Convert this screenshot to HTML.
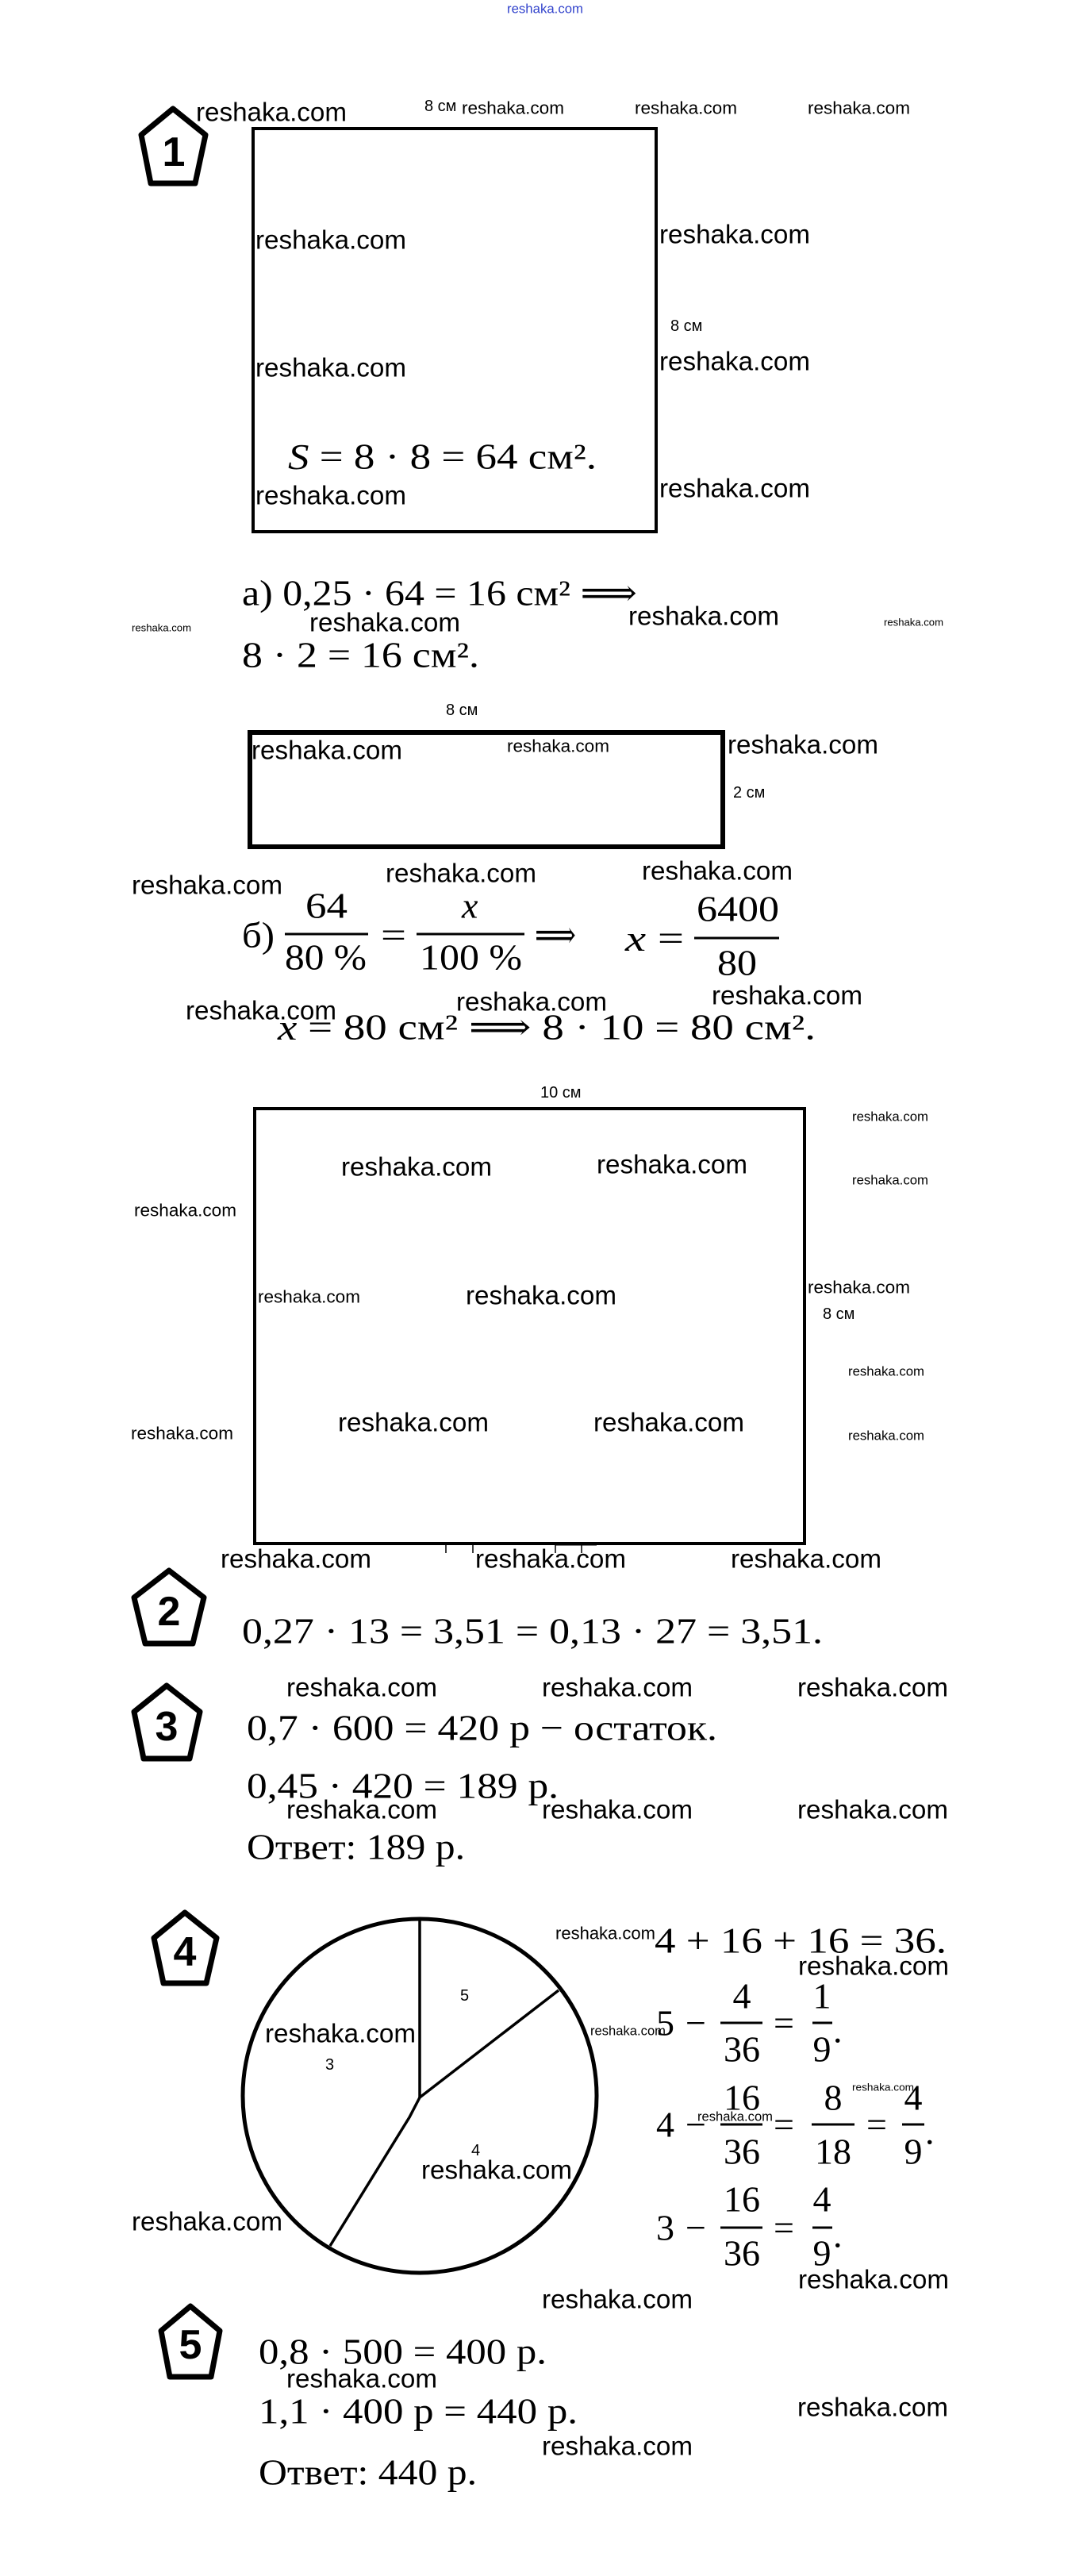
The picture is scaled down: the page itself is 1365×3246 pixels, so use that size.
<!DOCTYPE html>
<html><head><meta charset="utf-8"><style>
html,body{margin:0;padding:0;background:#fff;}
svg{display:block;}
.r{font-family:"Liberation Sans",sans-serif;fill:#000;dominant-baseline:central;}
.m{font-family:"Liberation Serif","DejaVu Serif",serif;fill:#000;dominant-baseline:central;font-size:46px;}
.p{font-family:"Liberation Sans",sans-serif;font-weight:bold;fill:#000;dominant-baseline:central;text-anchor:middle;font-size:52px;}
.s{font-family:"Liberation Sans",sans-serif;fill:#000;dominant-baseline:central;font-size:20px;}
</style></head><body>
<svg width="1365" height="3246" viewBox="0 0 1365 3246" xmlns="http://www.w3.org/2000/svg">
<text class="r" x="639" y="11" font-size="17" fill="#3344cc" style="fill:#3344cc" textLength="96" lengthAdjust="spacingAndGlyphs">reshaka.com</text>

<!-- pentagons -->
<g fill="none" stroke="#000" stroke-width="7" stroke-linejoin="round">
<polygon points="218,137 259,170 246,231 190,231 178,170"/>
<polygon points="213,1979 257,2013 243,2071 183,2071 169,2013"/>
<polygon points="210,2124 252,2157 239,2216 181,2216 169,2157"/>
<polygon points="233,2410 273,2442 260,2499 206,2499 194,2442"/>
<polygon points="240,2906 277,2937 266,2995 214,2995 203,2937"/>
</g>
<text class="p" x="219" y="192">1</text>
<text class="p" x="213" y="2031">2</text>
<text class="p" x="210" y="2176">3</text>
<text class="p" x="233" y="2460">4</text>
<text class="p" x="240" y="2955">5</text>

<!-- shapes -->
<rect x="319" y="162" width="508" height="508" fill="none" stroke="#000" stroke-width="4"/>
<rect x="315" y="923" width="596" height="144" fill="none" stroke="#000" stroke-width="6"/>
<rect x="321" y="1397" width="693" height="548" fill="none" stroke="#000" stroke-width="4"/>
<g stroke="#000" stroke-width="1.5">
<line x1="562" y1="1945" x2="562" y2="1957"/><line x1="596" y1="1945" x2="596" y2="1957"/>
<line x1="700" y1="1945" x2="700" y2="1957"/><line x1="733" y1="1945" x2="733" y2="1957"/>
</g>
<line x1="700" y1="1946" x2="752" y2="1946" stroke="#000" stroke-width="3"/>
<circle cx="529" cy="2641" r="223" fill="none" stroke="#000" stroke-width="5"/>
<g stroke="#000" stroke-width="3.5" fill="none">
<line x1="529" y1="2418" x2="529" y2="2643"/>
<line x1="529" y1="2643" x2="704" y2="2508"/>
<polyline points="529,2643 516,2668 416,2830"/>
</g>
<text class="s" x="580" y="2515" font-size="17">5</text>
<text class="s" x="410" y="2602" font-size="17">3</text>
<text class="s" x="594" y="2710" font-size="17">4</text>

<!-- dimension labels -->
<text class="s" x="535" y="134">8 см</text>
<text class="s" x="845" y="411">8 см</text>
<text class="s" x="562" y="895">8 см</text>
<text class="s" x="924" y="999">2 см</text>
<text class="s" x="681" y="1377">10 см</text>
<text class="s" x="1037" y="1656">8 см</text>

<!-- math -->
<text class="m" x="363" y="575" textLength="389" lengthAdjust="spacingAndGlyphs"><tspan font-style="italic">S</tspan> = 8 · 8 = 64 см².</text>
<text class="m" x="305" y="747" textLength="498" lengthAdjust="spacingAndGlyphs">а) 0,25 · 64 = 16 см² ⟹</text>
<text class="m" x="305" y="825" textLength="299" lengthAdjust="spacingAndGlyphs">8 · 2 = 16 см².</text>

<text class="m" x="305" y="1178" textLength="41" lengthAdjust="spacingAndGlyphs">б)</text>
<text class="m" x="385" y="1141" textLength="53" lengthAdjust="spacingAndGlyphs">64</text>
<line x1="359" y1="1177" x2="464" y2="1177" stroke="#000" stroke-width="3"/>
<text class="m" x="359" y="1206" textLength="103" lengthAdjust="spacingAndGlyphs">80 %</text>
<text class="m" x="480" y="1178" textLength="32" lengthAdjust="spacingAndGlyphs">=</text>
<text class="m" x="582" y="1141" font-style="italic">x</text>
<line x1="525" y1="1177" x2="661" y2="1177" stroke="#000" stroke-width="3"/>
<text class="m" x="529" y="1206" textLength="129" lengthAdjust="spacingAndGlyphs">100 %</text>
<text class="m" x="674" y="1178" textLength="52" lengthAdjust="spacingAndGlyphs">⟹</text>
<text class="m" x="788" y="1182" textLength="74" lengthAdjust="spacingAndGlyphs"><tspan font-style="italic">x</tspan> =</text>
<text class="m" x="878" y="1145" textLength="104" lengthAdjust="spacingAndGlyphs">6400</text>
<line x1="875" y1="1182" x2="982" y2="1182" stroke="#000" stroke-width="3"/>
<text class="m" x="904" y="1213" textLength="50" lengthAdjust="spacingAndGlyphs">80</text>
<text class="m" x="350" y="1294" textLength="678" lengthAdjust="spacingAndGlyphs"><tspan font-style="italic">x</tspan> = 80 см² ⟹   8 · 10 = 80 см².</text>

<text class="m" x="305" y="2055" textLength="732" lengthAdjust="spacingAndGlyphs">0,27 · 13 = 3,51 = 0,13 · 27 = 3,51.</text>
<text class="m" x="311" y="2177" textLength="593" lengthAdjust="spacingAndGlyphs">0,7 · 600 = 420 р − остаток.</text>
<text class="m" x="311" y="2250" textLength="393" lengthAdjust="spacingAndGlyphs">0,45 · 420 = 189 р.</text>
<text class="m" x="311" y="2327" textLength="275" lengthAdjust="spacingAndGlyphs">Ответ: 189 р.</text>

<text class="m" x="825" y="2445" textLength="368" lengthAdjust="spacingAndGlyphs">4 + 16 + 16 = 36.</text>
<!-- row1 -->
<text class="m" x="827" y="2549">5</text><text class="m" x="864" y="2549">−</text>
<text class="m" x="935" y="2515" text-anchor="middle">4</text>
<line x1="908" y1="2549" x2="961" y2="2549" stroke="#000" stroke-width="3"/>
<text class="m" x="935" y="2582" text-anchor="middle">36</text>
<text class="m" x="975" y="2549">=</text>
<text class="m" x="1036" y="2515" text-anchor="middle">1</text>
<line x1="1024" y1="2549" x2="1049" y2="2549" stroke="#000" stroke-width="3"/>
<text class="m" x="1036" y="2582" text-anchor="middle">9</text><text class="m" x="1050" y="2558">.</text>
<!-- row2 -->
<text class="m" x="827" y="2677">4</text><text class="m" x="864" y="2677">−</text>
<text class="m" x="935" y="2643" text-anchor="middle">16</text>
<line x1="908" y1="2677" x2="961" y2="2677" stroke="#000" stroke-width="3"/>
<text class="m" x="935" y="2711" text-anchor="middle">36</text>
<text class="m" x="975" y="2677">=</text>
<text class="m" x="1050" y="2643" text-anchor="middle">8</text>
<line x1="1023" y1="2677" x2="1077" y2="2677" stroke="#000" stroke-width="3"/>
<text class="m" x="1050" y="2711" text-anchor="middle">18</text>
<text class="m" x="1092" y="2677">=</text>
<text class="m" x="1151" y="2643" text-anchor="middle">4</text>
<line x1="1137" y1="2677" x2="1165" y2="2677" stroke="#000" stroke-width="3"/>
<text class="m" x="1151" y="2711" text-anchor="middle">9</text><text class="m" x="1166" y="2686">.</text>
<!-- row3 -->
<text class="m" x="827" y="2807">3</text><text class="m" x="864" y="2807">−</text>
<text class="m" x="935" y="2771" text-anchor="middle">16</text>
<line x1="908" y1="2807" x2="961" y2="2807" stroke="#000" stroke-width="3"/>
<text class="m" x="935" y="2839" text-anchor="middle">36</text>
<text class="m" x="975" y="2807">=</text>
<text class="m" x="1036" y="2771" text-anchor="middle">4</text>
<line x1="1024" y1="2807" x2="1049" y2="2807" stroke="#000" stroke-width="3"/>
<text class="m" x="1036" y="2839" text-anchor="middle">9</text><text class="m" x="1050" y="2816">.</text>

<text class="m" x="326" y="2963" textLength="363" lengthAdjust="spacingAndGlyphs">0,8 · 500 = 400 р.</text>
<text class="m" x="326" y="3038" textLength="402" lengthAdjust="spacingAndGlyphs">1,1 · 400 р = 440 р.</text>
<text class="m" x="326" y="3115" textLength="275" lengthAdjust="spacingAndGlyphs">Ответ: 440 р.</text>

<!-- watermarks large -->
<g class="r" font-size="33">
<text class="r" x="247" y="141" font-size="33" textLength="190" lengthAdjust="spacingAndGlyphs">reshaka.com</text>
<text class="r" x="322" y="302" font-size="33" textLength="190" lengthAdjust="spacingAndGlyphs">reshaka.com</text>
<text class="r" x="322" y="463" font-size="33" textLength="190" lengthAdjust="spacingAndGlyphs">reshaka.com</text>
<text class="r" x="322" y="624" font-size="33" textLength="190" lengthAdjust="spacingAndGlyphs">reshaka.com</text>
<text class="r" x="831" y="295" font-size="33" textLength="190" lengthAdjust="spacingAndGlyphs">reshaka.com</text>
<text class="r" x="831" y="455" font-size="33" textLength="190" lengthAdjust="spacingAndGlyphs">reshaka.com</text>
<text class="r" x="831" y="615" font-size="33" textLength="190" lengthAdjust="spacingAndGlyphs">reshaka.com</text>
<text class="r" x="390" y="784" font-size="33" textLength="190" lengthAdjust="spacingAndGlyphs">reshaka.com</text>
<text class="r" x="792" y="776" font-size="33" textLength="190" lengthAdjust="spacingAndGlyphs">reshaka.com</text>
<text class="r" x="317" y="945" font-size="33" textLength="190" lengthAdjust="spacingAndGlyphs">reshaka.com</text>
<text class="r" x="917" y="938" font-size="33" textLength="190" lengthAdjust="spacingAndGlyphs">reshaka.com</text>
<text class="r" x="486" y="1100" font-size="33" textLength="190" lengthAdjust="spacingAndGlyphs">reshaka.com</text>
<text class="r" x="809" y="1097" font-size="33" textLength="190" lengthAdjust="spacingAndGlyphs">reshaka.com</text>
<text class="r" x="166" y="1115" font-size="33" textLength="190" lengthAdjust="spacingAndGlyphs">reshaka.com</text>
<text class="r" x="234" y="1273" font-size="33" textLength="190" lengthAdjust="spacingAndGlyphs">reshaka.com</text>
<text class="r" x="575" y="1262" font-size="33" textLength="190" lengthAdjust="spacingAndGlyphs">reshaka.com</text>
<text class="r" x="897" y="1254" font-size="33" textLength="190" lengthAdjust="spacingAndGlyphs">reshaka.com</text>
<text class="r" x="430" y="1470" font-size="33" textLength="190" lengthAdjust="spacingAndGlyphs">reshaka.com</text>
<text class="r" x="752" y="1467" font-size="33" textLength="190" lengthAdjust="spacingAndGlyphs">reshaka.com</text>
<text class="r" x="587" y="1632" font-size="33" textLength="190" lengthAdjust="spacingAndGlyphs">reshaka.com</text>
<text class="r" x="426" y="1792" font-size="33" textLength="190" lengthAdjust="spacingAndGlyphs">reshaka.com</text>
<text class="r" x="748" y="1792" font-size="33" textLength="190" lengthAdjust="spacingAndGlyphs">reshaka.com</text>
<text class="r" x="278" y="1964" font-size="33" textLength="190" lengthAdjust="spacingAndGlyphs">reshaka.com</text>
<text class="r" x="599" y="1964" font-size="33" textLength="190" lengthAdjust="spacingAndGlyphs">reshaka.com</text>
<text class="r" x="921" y="1964" font-size="33" textLength="190" lengthAdjust="spacingAndGlyphs">reshaka.com</text>
<text class="r" x="361" y="2126" font-size="33" textLength="190" lengthAdjust="spacingAndGlyphs">reshaka.com</text>
<text class="r" x="683" y="2126" font-size="33" textLength="190" lengthAdjust="spacingAndGlyphs">reshaka.com</text>
<text class="r" x="1005" y="2126" font-size="33" textLength="190" lengthAdjust="spacingAndGlyphs">reshaka.com</text>
<text class="r" x="361" y="2280" font-size="33" textLength="190" lengthAdjust="spacingAndGlyphs">reshaka.com</text>
<text class="r" x="683" y="2280" font-size="33" textLength="190" lengthAdjust="spacingAndGlyphs">reshaka.com</text>
<text class="r" x="1005" y="2280" font-size="33" textLength="190" lengthAdjust="spacingAndGlyphs">reshaka.com</text>
<text class="r" x="334" y="2562" font-size="33" textLength="190" lengthAdjust="spacingAndGlyphs">reshaka.com</text>
<text class="r" x="531" y="2734" font-size="33" textLength="190" lengthAdjust="spacingAndGlyphs">reshaka.com</text>
<text class="r" x="166" y="2799" font-size="33" textLength="190" lengthAdjust="spacingAndGlyphs">reshaka.com</text>
<text class="r" x="1006" y="2477" font-size="33" textLength="190" lengthAdjust="spacingAndGlyphs">reshaka.com</text>
<text class="r" x="1006" y="2872" font-size="33" textLength="190" lengthAdjust="spacingAndGlyphs">reshaka.com</text>
<text class="r" x="683" y="2897" font-size="33" textLength="190" lengthAdjust="spacingAndGlyphs">reshaka.com</text>
<text class="r" x="361" y="2997" font-size="33" textLength="190" lengthAdjust="spacingAndGlyphs">reshaka.com</text>
<text class="r" x="1005" y="3033" font-size="33" textLength="190" lengthAdjust="spacingAndGlyphs">reshaka.com</text>
<text class="r" x="683" y="3082" font-size="33" textLength="190" lengthAdjust="spacingAndGlyphs">reshaka.com</text>
</g>
<!-- medium -->
<text class="r" x="582" y="136" font-size="22" textLength="129" lengthAdjust="spacingAndGlyphs">reshaka.com</text>
<text class="r" x="800" y="136" font-size="22" textLength="129" lengthAdjust="spacingAndGlyphs">reshaka.com</text>
<text class="r" x="1018" y="136" font-size="22" textLength="129" lengthAdjust="spacingAndGlyphs">reshaka.com</text>
<text class="r" x="639" y="940" font-size="22" textLength="129" lengthAdjust="spacingAndGlyphs">reshaka.com</text>
<text class="r" x="169" y="1525" font-size="22" textLength="129" lengthAdjust="spacingAndGlyphs">reshaka.com</text>
<text class="r" x="165" y="1806" font-size="22" textLength="129" lengthAdjust="spacingAndGlyphs">reshaka.com</text>
<text class="r" x="325" y="1634" font-size="22" textLength="129" lengthAdjust="spacingAndGlyphs">reshaka.com</text>
<text class="r" x="1018" y="1622" font-size="22" textLength="129" lengthAdjust="spacingAndGlyphs">reshaka.com</text>
<text class="r" x="700" y="2436" font-size="22" textLength="126" lengthAdjust="spacingAndGlyphs">reshaka.com</text>
<!-- small -->
<text class="r" x="1074" y="1407" font-size="17" textLength="96" lengthAdjust="spacingAndGlyphs">reshaka.com</text>
<text class="r" x="1074" y="1487" font-size="17" textLength="96" lengthAdjust="spacingAndGlyphs">reshaka.com</text>
<text class="r" x="1069" y="1728" font-size="17" textLength="96" lengthAdjust="spacingAndGlyphs">reshaka.com</text>
<text class="r" x="1069" y="1809" font-size="17" textLength="96" lengthAdjust="spacingAndGlyphs">reshaka.com</text>
<text class="r" x="744" y="2559" font-size="17" textLength="95" lengthAdjust="spacingAndGlyphs">reshaka.com</text>
<text class="r" x="879" y="2667" font-size="17" textLength="95" lengthAdjust="spacingAndGlyphs">reshaka.com</text>
<!-- tiny -->
<text class="r" x="166" y="791" font-size="13" textLength="75" lengthAdjust="spacingAndGlyphs">reshaka.com</text>
<text class="r" x="1114" y="784" font-size="13" textLength="75" lengthAdjust="spacingAndGlyphs">reshaka.com</text>
<text class="r" x="1074" y="2630" font-size="13" textLength="78" lengthAdjust="spacingAndGlyphs">reshaka.com</text>
</svg>
</body></html>
